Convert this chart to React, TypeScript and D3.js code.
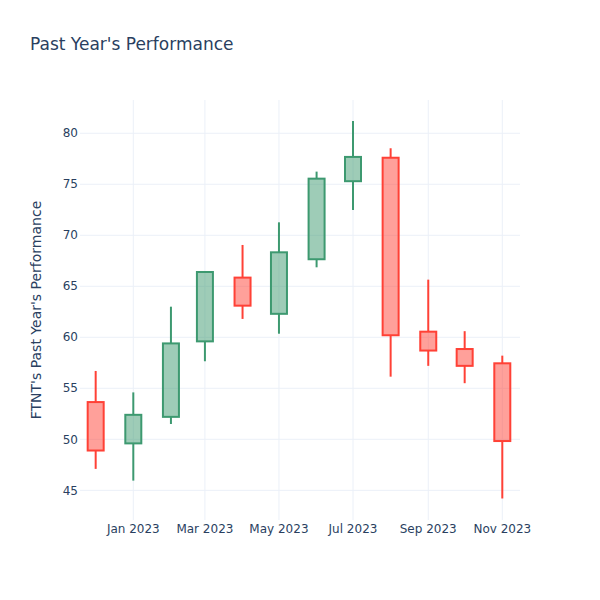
import React from "react";
import * as d3 from "d3";

const months = ["2022-12-01","2023-01-01","2023-02-01","2023-03-01","2023-04-01","2023-05-01","2023-06-01","2023-07-01","2023-08-01","2023-09-01","2023-10-01","2023-11-01"];
const opens = [53.65, 49.6, 52.2, 59.6, 65.85, 62.3, 67.65, 75.3, 77.6, 60.55, 58.85, 57.45];
const highs = [56.7, 54.6, 63.0, 66.5, 69.05, 71.27, 76.24, 81.2, 78.53, 65.65, 60.6, 58.2];
const lows = [47.1, 45.95, 51.5, 57.65, 61.8, 60.35, 66.86, 72.48, 56.14, 57.2, 55.5, 44.2];
const closes = [48.9, 52.4, 59.4, 66.4, 63.1, 68.33, 75.55, 77.68, 60.2, 58.7, 57.2, 49.83];
const yTicks = [45, 50, 55, 60, 65, 70, 75, 80];
const xTicks = ["2023-01-01","2023-03-01","2023-05-01","2023-07-01","2023-09-01","2023-11-01"];

const W = 600, H = 600;
const M = { l: 80, r: 80, t: 100, b: 80 };
const FONT = '"DejaVu Sans", Verdana, sans-serif';
const TXT = "#2a3f5f";
const GRID = "#EBF0F8";
const INC = "#3D9970", DEC = "#FF4136";

const parse = (s: string) => { const [y, m, d] = s.split("-").map(Number); return new Date(y, m - 1, d); };

export default function App() {
  const x = d3.scaleTime()
    .domain([new Date(2022, 10, 18, 2), new Date(2023, 10, 15, 14)])
    .range([M.l, W - M.r]);
  const y = d3.scaleLinear().domain([42.09, 83.26]).range([H - M.b, M.t]);
  const fmt = d3.timeFormat("%b %Y");
  const halfW = 8;

  return (
    <svg width={W} height={H} style={{ display: "block", position: "absolute", left: 0, top: 0, background: "#fff" }} fontFamily={FONT}>
      <rect x={0} y={0} width={W} height={H} fill="#fff" />
      {xTicks.map((t) => (
        <line key={"vx" + t} x1={x(parse(t))} x2={x(parse(t))} y1={M.t} y2={H - M.b} stroke={GRID} strokeWidth={1} />
      ))}
      {yTicks.map((t) => (
        <line key={"hy" + t} x1={M.l} x2={W - M.r} y1={y(t)} y2={y(t)} stroke={GRID} strokeWidth={1} />
      ))}
      {months.map((m, i) => {
        const inc = closes[i] >= opens[i];
        const c = inc ? INC : DEC;
        const fill = inc ? "rgba(61,153,112,0.5)" : "rgba(255,65,54,0.5)";
        const cx = x(parse(m));
        const top = y(Math.max(opens[i], closes[i]));
        const bot = y(Math.min(opens[i], closes[i]));
        return (
          <g key={m}>
            <line x1={cx} x2={cx} y1={y(highs[i])} y2={top} stroke={c} strokeWidth={2} />
            <line x1={cx} x2={cx} y1={bot} y2={y(lows[i])} stroke={c} strokeWidth={2} />
            <rect x={cx - halfW} y={top} width={halfW * 2} height={Math.max(bot - top, 0.5)} fill={fill} stroke={c} strokeWidth={2} />
          </g>
        );
      })}
      {yTicks.map((t) => (
        <text key={"ty" + t} x={M.l - 2} y={y(t)} dy="0.35em" textAnchor="end" fontSize={12} fill={TXT}>{t}</text>
      ))}
      {xTicks.map((t) => (
        <text key={"tx" + t} x={x(parse(t))} y={533} textAnchor="middle" fontSize={12} fill={TXT}>{fmt(parse(t))}</text>
      ))}
      <text x={30} y={50} fontSize={17} fill={TXT}>Past Year's Performance</text>
      <text transform={`translate(41,${(M.t + H - M.b) / 2}) rotate(-90)`} textAnchor="middle" fontSize={14} fill={TXT}>FTNT's Past Year's Performance</text>
    </svg>
  );
}
